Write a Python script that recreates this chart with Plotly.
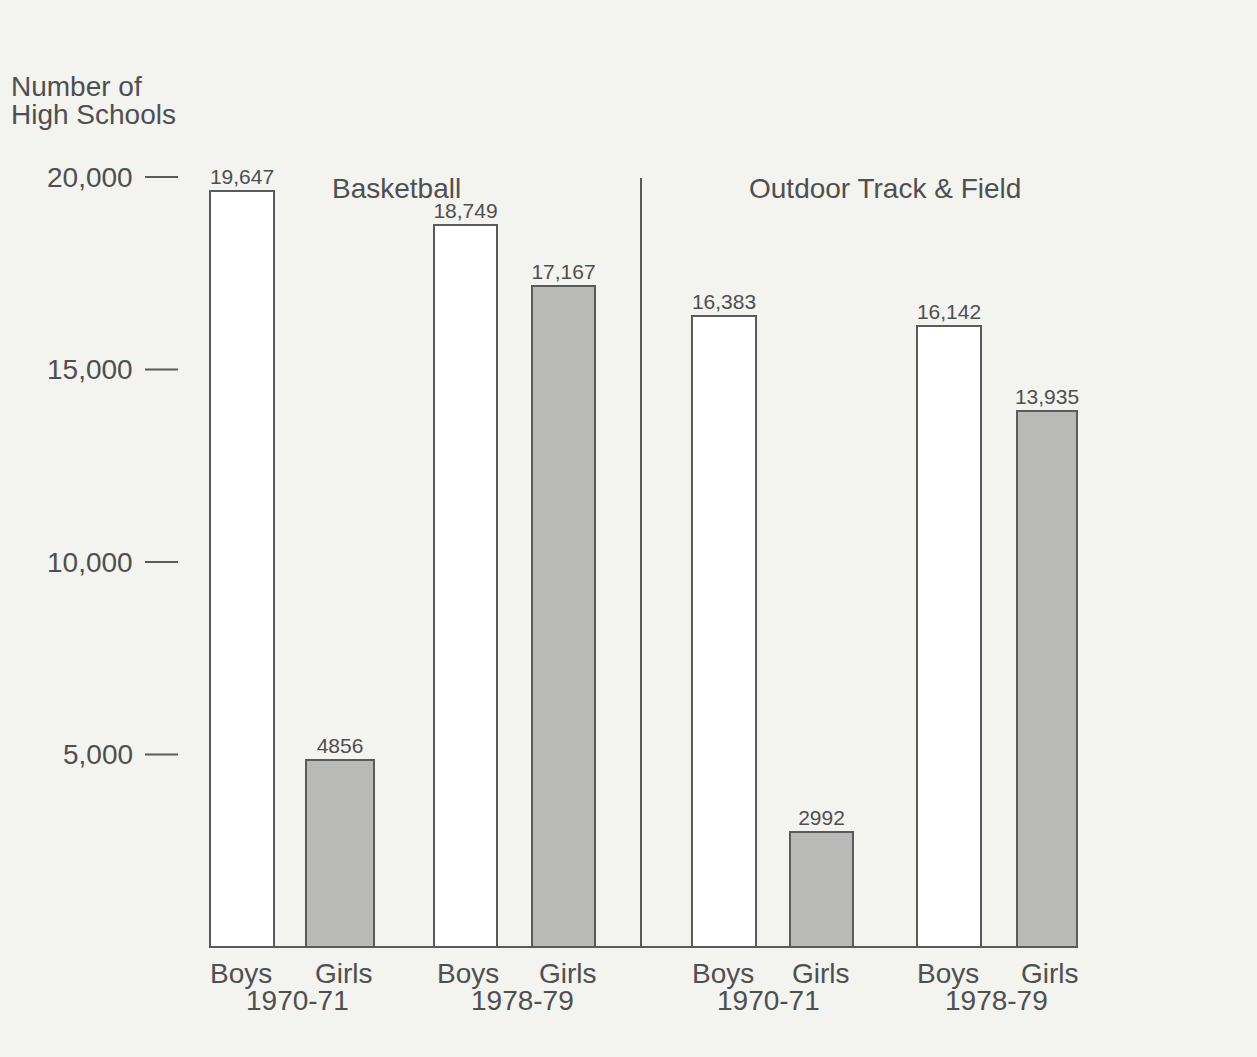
import plotly.graph_objects as go

# data
sports = ["Basketball", "Outdoor Track & Field"]
seasons = ["1970-71", "1978-79"]
sexes = ["Boys", "Girls"]
basketball = [19647, 4856, 18749, 17167]
track = [16383, 2992, 16142, 13935]
value_labels = ["19,647", "4856", "18,749", "17,167", "16,383", "2992", "16,142", "13,935"]
y_ticks = [5000, 10000, 15000, 20000]
y_tick_text = ["5,000", "10,000", "15,000", "20,000"]
y_title = ["Number of", "High Schools"]

# layout (pixel-like x coordinates)
x_centers = [242, 340, 465, 563, 724, 821, 949, 1047]
widths = [64, 68, 63, 63, 64, 63, 64, 60]
W, H = 1257, 1057
base_px = 947
scale = 0.0385  # px per school
y_top = base_px / scale
y_bot = -(H - base_px) / scale

INK = "#4f4f4f"
LINE = "#5a5a5a"
GREY = "#b9b9b7"
BG = "#f3f3f0"
FONT = "Liberation Sans"
FS = 28


def py(pix):
    return 1 - pix / H


values = basketball + track
fills = ["white" if i % 2 == 0 else GREY for i in range(len(values))]

fig = go.Figure()
fig.add_bar(
    x=x_centers,
    y=values,
    width=widths,
    marker=dict(color=fills, line=dict(color=LINE, width=2)),
    text=value_labels,
    textposition="outside",
    textfont=dict(family=FONT, size=21, color=INK),
    cliponaxis=False,
    constraintext="none",
    showlegend=False,
)

shapes = []
# baseline
shapes.append(dict(type="line", xref="x", yref="y", x0=210, x1=1078, y0=0, y1=0,
                   line=dict(color=LINE, width=2)))
# divider
shapes.append(dict(type="line", xref="x", yref="y", x0=641, x1=641, y0=0,
                   y1=(base_px - 178) / scale, line=dict(color=LINE, width=2)))
annotations = []
for v, t in zip(y_ticks, y_tick_text):
    shapes.append(dict(type="line", xref="x", yref="y", x0=145, x1=178, y0=v, y1=v,
                       line=dict(color=LINE, width=2)))
    annotations.append(dict(x=135, y=v, xref="x", yref="y", text=t, showarrow=False,
                            xanchor="right", yanchor="middle",
                            font=dict(family=FONT, size=FS, color=INK)))

# sex labels under bars
sex_x = [241, 344, 468, 568, 723, 821, 948, 1050]
for i, x in enumerate(sex_x):
    annotations.append(dict(x=x, y=py(973), xref="x", yref="paper",
                            text=sexes[i % 2], showarrow=False,
                            xanchor="center", yanchor="middle",
                            font=dict(family=FONT, size=FS, color=INK)))
# season labels
season_x = [297, 522, 768, 996]
for i, x in enumerate(season_x):
    annotations.append(dict(x=x, y=py(1000), xref="x", yref="paper",
                            text=seasons[i % 2], showarrow=False,
                            xanchor="center", yanchor="middle",
                            font=dict(family=FONT, size=FS, color=INK)))
# sport titles
for name, x in zip(sports, [396, 885]):
    annotations.append(dict(x=x, y=py(188), xref="x", yref="paper", text=name,
                            showarrow=False, xanchor="center", yanchor="middle",
                            font=dict(family=FONT, size=FS, color=INK)))
# axis title
for line, yp in zip(y_title, [86, 114]):
    annotations.append(dict(x=9, y=py(yp), xref="x", yref="paper", text=line,
                            showarrow=False, xanchor="left", yanchor="middle",
                            font=dict(family=FONT, size=FS, color=INK)))

fig.update_layout(
    width=W,
    height=H,
    margin=dict(l=0, r=0, t=0, b=0),
    paper_bgcolor=BG,
    plot_bgcolor=BG,
    xaxis=dict(range=[0, W], visible=False, fixedrange=True),
    yaxis=dict(range=[y_bot, y_top], visible=False, fixedrange=True),
    shapes=shapes,
    annotations=annotations,
    bargap=0,
)

fig.write_html("out.html", config={"displayModeBar": False},
               post_script="document.body.style.margin='0';")
